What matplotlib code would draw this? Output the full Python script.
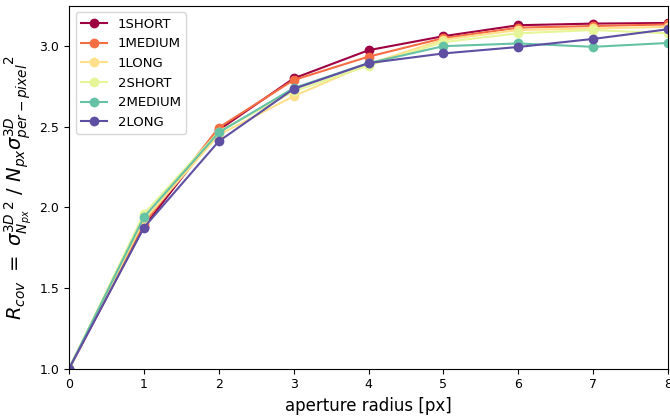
import matplotlib
matplotlib.use("Agg")
import matplotlib.pyplot as plt
import numpy as np

radius = [0, 1, 2, 3, 4, 5, 6, 7, 8]
labels = ["1SHORT", "1MEDIUM", "1LONG", "2SHORT", "2MEDIUM", "2LONG"]

r_1short = [1.0, 1.88, 2.48, 2.80, 2.975, 3.062, 3.13, 3.14, 3.144]
r_1medium = [1.0, 1.90, 2.495, 2.79, 2.935, 3.05, 3.115, 3.125, 3.135]
r_1long = [1.0, 1.92, 2.45, 2.69, 2.89, 3.04, 3.10, 3.11, 3.12]
r_2short = [1.0, 1.96, 2.47, 2.72, 2.88, 3.025, 3.08, 3.10, 3.08]
r_2medium = [1.0, 1.94, 2.465, 2.74, 2.895, 3.0, 3.017, 2.996, 3.02]
r_2long = [1.0, 1.875, 2.41, 2.735, 2.895, 2.955, 2.995, 3.045, 3.105]

series = [r_1short, r_1medium, r_1long, r_2short, r_2medium, r_2long]
colors = plt.cm.Spectral(np.linspace(0, 1, len(series)))

fig, ax = plt.subplots(figsize=(6.7, 4.19), dpi=100)
fig.subplots_adjust(left=0.103, right=0.997, top=0.986, bottom=0.12)

for vals, lbl, c in zip(series, labels, colors):
    ax.plot(radius, vals, "o-", color=c, label=lbl)

ax.set_xlim(0, 8)
ax.set_ylim(1.0, 3.25)
ax.set_yticks([1.0, 1.5, 2.0, 2.5, 3.0])
ax.tick_params(labelsize=9)
ax.set_xlabel("aperture radius [px]", fontsize=12)
ax.set_ylabel(
    r"$R_{cov}\ =\ {\sigma^{3D}_{N_{px}}}^2\ /\ N_{px}{\sigma^{3D}_{per-pixel}}^2$",
    fontsize=14,
)
ax.legend(loc="upper left", fontsize=9.5)

fig.savefig("out.png", dpi=100)
